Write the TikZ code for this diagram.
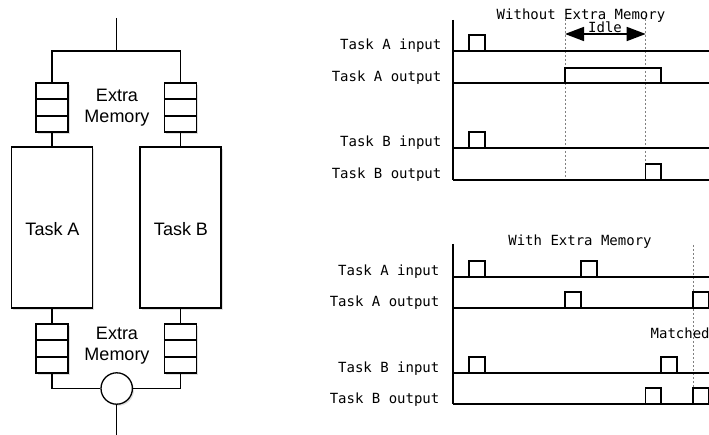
\documentclass[tikz,border=0pt]{standalone}
\usepackage{fontspec}
\setmainfont{Liberation Sans}
\newfontfamily\monofont{DejaVu Sans Mono}
\usetikzlibrary{shadows,arrows.meta,calc}

\tikzset{
  boxshadow/.style={drop shadow={opacity=0.25, shadow xshift=1.6pt, shadow yshift=-1.6pt}},
  membox/.style={draw, fill=white, minimum width=32pt, minimum height=49pt, inner sep=0pt, boxshadow},
  taskbox/.style={draw, fill=white, minimum width=81pt, minimum height=161pt, inner sep=0pt, boxshadow},
  joinnode/.style={draw, fill=white, circle, minimum size=31.4pt, inner sep=0pt, boxshadow},
  sanslbl/.style={font=\fontsize{18}{18}\selectfont, anchor=base, inner sep=0pt},
  monolbl/.style={font=\monofont\fontsize{14}{14}\selectfont, inner sep=0pt},
  siglbl/.style={monolbl, anchor=base east},
  signal/.style={line width=1.3pt},
  guide/.style={line width=0.6pt, gray, dash pattern=on 2pt off 2pt},
  idlearrow/.style={line width=1.6pt, {Triangle[length=19pt,width=14pt]}-{Triangle[length=19pt,width=14pt]}},
}

\begin{document}
\begin{tikzpicture}[x=1pt, y=-1pt, line width=1.3pt]
\useasboundingbox (0,0) rectangle (709,435);

% ---------- block structure ----------
\coordinate (in) at (116.7,18);
\coordinate (fork) at (116.7,51);
\coordinate (out) at (116.7,436);

\node[membox] (memA1) at (52,107.5) {};
\node[membox] (memB1) at (180.5,107.5) {};
\node[taskbox] (taskA) at (52,227.5) {};
\node[taskbox] (taskB) at (180.5,227.5) {};
\node[membox] (memA2) at (52,348.5) {};
\node[membox] (memB2) at (180.5,348.5) {};
\node[joinnode] (join) at (116.7,388.5) {};

\foreach \m in {memA1,memB1,memA2,memB2}{
  \draw ($(\m.north west)!1/3!(\m.south west)$) -- ($(\m.north east)!1/3!(\m.south east)$);
  \draw ($(\m.north west)!2/3!(\m.south west)$) -- ($(\m.north east)!2/3!(\m.south east)$);
}

\draw (in) -- (fork);
\draw (memA1.north) |- (fork) -| (memB1.north);
\draw (memA1.south) -- (taskA.north);
\draw (memB1.south) -- (taskB.north);
\draw (taskA.south) -- (memA2.north);
\draw (taskB.south) -- (memB2.north);
\draw (memA2.south) |- (join.west);
\draw (memB2.south) |- (join.east);
\draw (join.south) -- (out);

\node[sanslbl] (xmem1a) at (117,101.7) {Extra};
\node[sanslbl] (xmem1b) at (117,122.7) {Memory};
\node[sanslbl] (xmem2a) at (117,339.3) {Extra};
\node[sanslbl] (xmem2b) at (117,360.7) {Memory};
\node[sanslbl] (lblA) at (52.5,236) {Task A};
\node[sanslbl] (lblB) at (181,236) {Task B};

% ---------- timing: without extra memory ----------
\node[monolbl, anchor=base] (t1) at (581,20) {Without Extra Memory};
\draw[guide] (565,15) -- (565,180);
\draw[guide] (645.7,15) -- (645.7,180);
\draw[idlearrow] (565,34) -- (645.7,34);
\node[monolbl, anchor=base] (idle) at (605,32.3) {Idle};

\draw[signal] (453,20) -- (453,180);
% base lines
\foreach \y in {51,83,148,180} \draw[signal] (453,\y) -- (712,\y);
% pulses: left, right, base line, top
\foreach \l/\r/\b/\t in {469/485/51/35, 565/661/83/68, 469/485/148/132, 645.7/661/180/164}
  \draw[signal] (\l,\b) -- (\l,\t) -- (\r,\t) -- (\r,\b);

\node[siglbl] (a1in) at (442,50) {Task A input};
\node[siglbl] (a1out) at (442,82) {Task A output};
\node[siglbl] (b1in) at (442,147) {Task B input};
\node[siglbl] (b1out) at (442,179) {Task B output};

% ---------- timing: with extra memory ----------
\node[monolbl, anchor=base] (t2) at (580,245.7) {With Extra Memory};
\draw[guide] (693,245) -- (693,404);
\node[monolbl, anchor=base west] (match) at (650,338) {Matched};

\draw[signal] (453,244) -- (453,404);
\foreach \y in {277,308,373,404} \draw[signal] (453,\y) -- (712,\y);
\foreach \l/\r/\b/\t in {469/485/277/261, 581/597/277/261,
                         565/581/308/292, 693/709/308/292,
                         469/485/373/357, 661/677/373/357,
                         645.7/661/404/388, 693/709/404/388}
  \draw[signal] (\l,\b) -- (\l,\t) -- (\r,\t) -- (\r,\b);

\node[siglbl] (a2in) at (440,276) {Task A input};
\node[siglbl] (a2out) at (440,307) {Task A output};
\node[siglbl] (b2in) at (440,372) {Task B input};
\node[siglbl] (b2out) at (440,403) {Task B output};
\end{tikzpicture}
\end{document}
